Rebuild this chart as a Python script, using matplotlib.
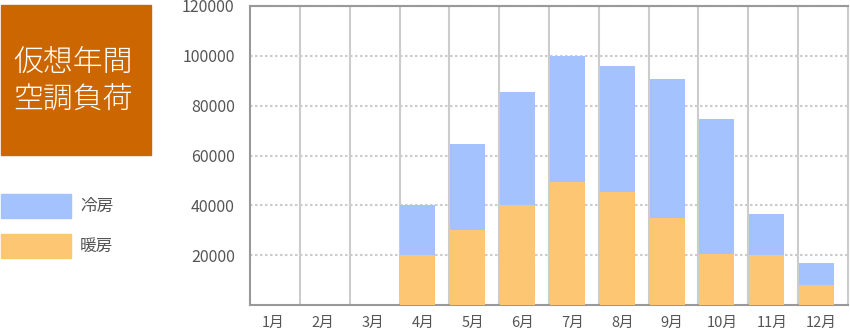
import matplotlib.pyplot as plt
from matplotlib.patches import Rectangle
import numpy as np

plt.rcParams['font.family'] = ['Noto Sans CJK JP', 'DejaVu Sans']

months = ["1月", "2月", "3月", "4月", "5月", "6月", "7月", "8月", "9月", "10月", "11月", "12月"]
heating = [0, 0, 0, 20000, 30000, 40000, 49500, 45500, 35000, 20500, 20000, 8000]
cooling = [0, 0, 0, 20000, 34500, 45500, 50500, 50500, 55800, 54300, 16500, 8800]
yticks = [20000, 40000, 60000, 80000, 100000, 120000]

c_cool = "#a4c2fe"
c_heat = "#fdc672"
c_title = "#cc6600"
c_text = "#555555"

fig = plt.figure(figsize=(8.5, 3.29), dpi=100)
ax = fig.add_axes([250 / 850, 24 / 329, 598 / 850, 299 / 329])

x = np.arange(len(months))
ax.bar(x + 0.02, heating, width=0.7, align="edge", color=c_heat, zorder=3)
ax.bar(x + 0.02, cooling, bottom=heating, width=0.7, align="edge", color=c_cool, zorder=3)

ax.set_xlim(0, 12)
ax.set_ylim(0, 120000)

# month slot lines
ax.set_xticks(np.arange(1, 12), minor=True)
ax.grid(True, which="minor", axis="x", color="#cccccc", linewidth=1.5, zorder=1)
ax.set_xticks(x + 0.47)
ax.set_xticklabels(months)
ax.tick_params(axis="x", which="both", length=0, colors=c_text, labelsize=10.5, pad=8)

ax.set_yticks(yticks)
ax.set_yticklabels([str(v) for v in yticks])
ax.tick_params(axis="y", length=0, colors=c_text, labelsize=11.5, pad=11)
ax.grid(True, which="major", axis="y", color="#cccccc", linewidth=1.5, linestyle=(0, (1.2, 1.2)), zorder=1)

for s in ["left", "bottom", "top"]:
    ax.spines[s].set_color("#999999")
    ax.spines[s].set_linewidth(1.5)
ax.spines["right"].set_color("#cccccc")
ax.spines["right"].set_linewidth(1.5)

# title box
W, H = 850, 329
fig.add_artist(Rectangle((1 / W, 1 - 155 / H), 150 / W, 150 / H,
                         transform=fig.transFigure, color=c_title))
fig.text(73 / W, 1 - 81 / H, "仮想年間\n空調負荷", color="white", fontsize=21.5,
         ha="center", va="center", linespacing=1.3, fontweight="light")

# legend
for y0, col, lab in [(194, c_cool, "冷房"), (234, c_heat, "暖房")]:
    fig.add_artist(Rectangle((1 / W, 1 - (y0 + 24) / H), 70 / W, 24 / H,
                             transform=fig.transFigure, color=col))
    fig.text(80 / W, 1 - (y0 + 12) / H, lab, color=c_text, fontsize=12, va="center")

plt.savefig("out.png")
plt.close(fig)
